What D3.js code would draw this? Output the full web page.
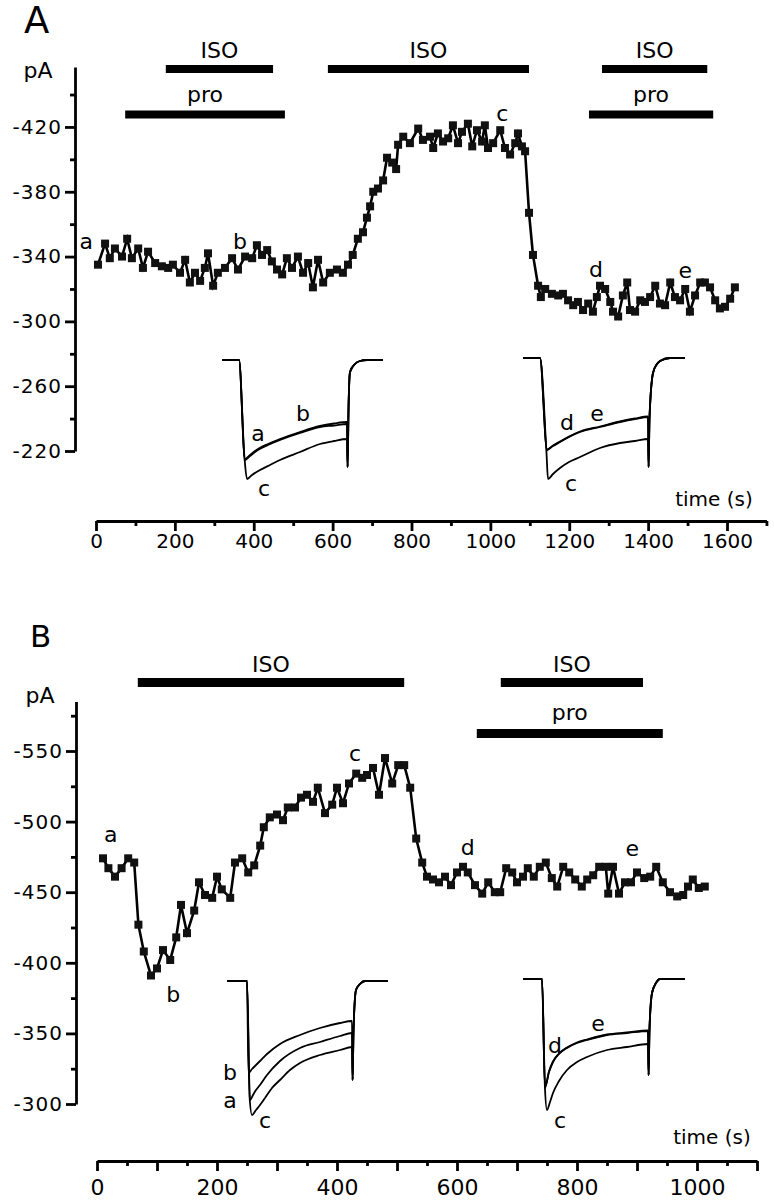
<!DOCTYPE html>
<html><head><meta charset="utf-8">
<script src="https://cdn.jsdelivr.net/npm/d3@7"></script>
<style>body{margin:0;background:#fff} svg{display:block}</style>
</head><body>
<svg id="chart" width="774" height="1200"></svg>
<script>
// ---------------- DATA ----------------
// Panel A: peak Ca current vs time
const panelA_time = [5,23,35,48,66,79,91,107,119,132,150,167,183,195,213,226,238,251,264,276,284,297,309,327,345,360,378,396,408,421,434,446,459,472,484,497,512,525,538,550,563,576,593,611,626,639,651,664,677,687,695,703,715,728,738,751,761,766,779,796,817,829,847,855,867,880,893,905,918,928,943,954,966,979,986,994,1007,1025,1037,1050,1063,1070,1080,1088,1098,1108,1121,1128,1139,1156,1172,1184,1197,1210,1222,1235,1248,1260,1270,1278,1291,1304,1311,1324,1336,1347,1354,1367,1380,1392,1405,1418,1430,1443,1456,1468,1481,1494,1506,1519,1532,1544,1557,1570,1582,1595,1608,1620];
const panelA_current = [-335,-348,-339,-345,-340,-351,-339,-345,-333,-343,-336,-334,-333,-335,-330,-338,-324,-330,-325,-333,-342,-322,-330,-333,-339,-332,-340,-339,-347,-341,-344,-337,-332,-329,-339,-333,-340,-330,-336,-321,-338,-324,-330,-332,-330,-335,-341,-351,-355,-364,-371,-380,-382,-387,-401,-398,-394,-409,-414,-410,-419,-412,-414,-407,-416,-411,-413,-421,-410,-417,-422,-408,-418,-411,-421,-407,-410,-418,-407,-403,-410,-416,-408,-405,-367,-341,-322,-315,-320,-317,-316,-317,-313,-310,-312,-307,-311,-306,-315,-322,-320,-312,-306,-303,-316,-324,-307,-306,-313,-312,-315,-322,-311,-310,-324,-315,-313,-320,-306,-316,-324,-324,-321,-313,-308,-309,-314,-321];

// Panel B
const panelB_time = [10,19,30,41,52,62,69,78,90,100,110,122,132,140,150,162,170,180,192,200,208,222,230,242,252,262,272,278,288,300,310,318,330,340,350,360,368,380,392,400,410,420,432,442,450,460,470,480,492,502,512,522,532,542,550,560,570,580,590,600,610,618,630,642,652,663,672,682,692,700,710,718,728,738,748,758,767,777,787,797,808,817,827,837,848,852,860,870,880,890,900,912,922,932,943,955,967,977,985,993,1003,1013];
const panelB_current = [-474,-467,-461,-467,-474,-471,-427,-408,-391,-396,-409,-402,-418,-441,-421,-437,-457,-448,-446,-461,-452,-446,-471,-474,-464,-469,-483,-496,-503,-505,-501,-510,-510,-517,-519,-514,-524,-506,-512,-524,-513,-527,-534,-531,-533,-538,-519,-545,-527,-540,-540,-524,-488,-471,-461,-459,-457,-461,-455,-464,-468,-464,-455,-449,-457,-450,-450,-467,-464,-457,-461,-467,-461,-468,-471,-460,-454,-468,-464,-459,-454,-459,-462,-468,-468,-449,-468,-449,-457,-457,-464,-460,-461,-468,-457,-450,-447,-448,-454,-459,-453,-454];

// Drug application bars (s)
const drugA_label = ["ISO","pro","ISO","ISO","pro"];
const drugA_start = [177, 74, 588, 1283, 1250];
const drugA_end   = [449, 479, 1098, 1550, 1565];
const drugA_row   = [0, 1, 0, 0, 1];
const drugB_label = ["ISO","ISO","pro"];
const drugB_start = [68, 673, 633];
const drugB_end   = [512, 910, 943];
const drugB_row   = [0, 0, 1];

// Point annotations [t, pA]
const annA_text = ["a","b","c","d","e"];
const annA_t = [-25, 365, 1030, 1268, 1494];
const annA_v = [-349.6, -349.6, -428.6, -332.3, -331.7];
const annB_text = ["a","b","c","d","e"];
const annB_t = [23, 127, 430, 618, 892];
const annB_v = [-491, -378, -548.6, -482, -481];

// Axis ticks
const tickA_y = [-420,-380,-340,-300,-260,-220];
const tickA_yMinor = [-440,-400,-360,-320,-280,-240];
const tickA_x = [0,200,400,600,800,1000,1200,1400,1600];
const tickA_xMinor = [100,300,500,700,900,1100,1300,1500,1700];
const tickB_y = [-550,-500,-450,-400,-350,-300];
const tickB_yMinor = [-575,-525,-475,-425,-375,-325];
const tickB_x = [0,200,400,600,800,1000];
const tickB_xMid = [100,300,500,700,900,1100];
const tickB_xMinor = [50,150,250,350,450,550,650,750,850,950,1050];

// Inset current traces: [ms, nA]
const tailA = [[125.6,-1.07],[126.5,-0.5],[128,-0.12],[133,-0.04],[138,-0.01],[145,0],[161,0]];
const insetA1_a = [[0,0],[17,0],[23,-1.00],[28,-0.96],[36,-0.90],[46,-0.85],[58,-0.80],[78,-0.73],[98,-0.67],[112,-0.655],[125,-0.64]];
const insetA1_b = [[0,0],[17,0],[23,-0.99],[28,-0.95],[36,-0.89],[46,-0.84],[58,-0.79],[78,-0.72],[98,-0.66],[112,-0.635],[125,-0.62]];
const insetA1_c = [[0,0],[17,0],[22.5,-0.98],[25,-1.19],[30,-1.15],[38,-1.10],[48,-1.05],[58,-1.00],[78,-0.92],[98,-0.84],[112,-0.81],[125,-0.79]];
const tailA2 = [[125.6,-1.09],[126.5,-0.6],[130,-0.15],[134,-0.06],[137,-0.03],[147,0],[162,0]];
const insetA2_d = [[0,0],[17,0],[24,-0.92],[30,-0.88],[37,-0.84],[46,-0.79],[57,-0.74],[77,-0.69],[97,-0.64],[112,-0.61],[125,-0.59]];
const insetA2_e = [[0,0],[17,0],[24,-0.915],[30,-0.875],[37,-0.835],[46,-0.785],[57,-0.735],[77,-0.685],[97,-0.635],[112,-0.605],[125,-0.585]];
const insetA2_c = [[0,0],[17,0],[23.5,-0.95],[25,-1.21],[30,-1.16],[37,-1.10],[46,-1.04],[57,-0.99],[77,-0.90],[97,-0.85],[112,-0.83],[125,-0.81]];
const tailB1 = [[125.6,-0.99],[126.5,-0.5],[129,-0.09],[133,-0.03],[138,0],[161,0]];
const insetB1_b = [[0,0],[20,0],[21.5,-0.92],[25,-0.88],[28,-0.85],[33,-0.80],[40,-0.73],[53,-0.63],[73,-0.54],[93,-0.47],[113,-0.42],[125,-0.40]];
const insetB1_a = [[0,0],[20,0],[23,-1.19],[26,-1.14],[29,-1.09],[33,-1.04],[40,-0.94],[53,-0.80],[73,-0.67],[93,-0.61],[113,-0.55],[125,-0.52]];
const insetB1_c = [[0,0],[20,0],[22.5,-1.15],[25,-1.34],[29,-1.29],[33,-1.24],[38,-1.17],[45,-1.07],[53,-0.99],[63,-0.89],[73,-0.82],[93,-0.74],[113,-0.69],[125,-0.66]];
const tailB2 = [[125.6,-0.96],[126.5,-0.5],[129,-0.14],[133,-0.04],[137,0],[162,0]];
const insetB2_d = [[0,0],[19,0],[22,-1.09],[26,-0.93],[30,-0.83],[36,-0.75],[44,-0.69],[54,-0.64],[64,-0.61],[84,-0.56],[104,-0.54],[125,-0.52]];
const insetB2_e = [[0,0],[19,0],[22,-1.08],[26,-0.925],[30,-0.825],[36,-0.745],[44,-0.685],[54,-0.635],[64,-0.605],[84,-0.555],[104,-0.535],[125,-0.515]];
const insetB2_c = [[0,0],[19,0],[22,-1.1],[24,-1.31],[27,-1.23],[30,-1.14],[36,-1.02],[44,-0.91],[54,-0.83],[64,-0.78],[84,-0.71],[104,-0.68],[125,-0.65]];

// ---------------- DRAW ----------------
const FONT = "'DejaVu Sans', Verdana, sans-serif";
const svg = d3.select("#chart");

const xA = d3.scaleLinear().domain([0, 1700]).range([96, 96 + 1700 * 631 / 1600]);
const yA = d3.scaleLinear().domain([-220, -457]).range([451, 67]);
const xB = d3.scaleLinear().domain([0, 1100]).range([97, 757]);
const yB = d3.scaleLinear().domain([-300, -585]).range([1104, 1104 - 285 * 1.412]);

function styleAxis(g, fs) {
  g.selectAll(".domain, .tick line").attr("stroke", "#000").attr("stroke-width", 2.8);
  g.selectAll("text").attr("font-family", FONT).attr("font-size", fs).attr("fill", "#000");
}

function drawYAxis(xpos, scale, majors, minors, fs) {
  const g = svg.append("g").attr("transform", `translate(${xpos},0)`);
  g.call(d3.axisLeft(scale).tickValues(majors).tickSize(10).tickSizeOuter(0).tickPadding(3).tickFormat(d => String(d)));
  const m = svg.append("g").attr("transform", `translate(${xpos},0)`);
  m.call(d3.axisLeft(scale).tickValues(minors).tickSize(5).tickFormat(""));
  m.select(".domain").remove();
  styleAxis(g, fs); styleAxis(m, fs);
  g.selectAll("text").attr("letter-spacing", 1);
}

function drawXAxis(ypos, scale, majors, mids, minors, fs, pad) {
  const g = svg.append("g").attr("transform", `translate(0,${ypos})`);
  g.call(d3.axisBottom(scale).tickValues(majors).tickSize(10).tickSizeOuter(0).tickPadding(pad).tickFormat(d => String(d)));
  styleAxis(g, fs);
  if (mids.length) {
    const m2 = svg.append("g").attr("transform", `translate(0,${ypos})`);
    m2.call(d3.axisBottom(scale).tickValues(mids).tickSize(10).tickFormat(""));
    m2.select(".domain").remove(); styleAxis(m2, fs);
  }
  const m = svg.append("g").attr("transform", `translate(0,${ypos})`);
  m.call(d3.axisBottom(scale).tickValues(minors).tickSize(5).tickFormat(""));
  m.select(".domain").remove(); styleAxis(m, fs);
}

function drawSeries(times, vals, xs, ys) {
  const pts = times.map((t, i) => [t, vals[i]]);
  svg.append("path").datum(pts)
    .attr("d", d3.line().x(d => xs(d[0])).y(d => ys(d[1])))
    .attr("fill", "none").attr("stroke", "#000").attr("stroke-width", 2.6);
  svg.append("g").selectAll("rect").data(pts).join("rect")
    .attr("x", d => xs(d[0]) - 4).attr("y", d => ys(d[1]) - 4)
    .attr("width", 8).attr("height", 8).attr("fill", "#111");
}

function drawDrugs(labels, starts, ends, rows, xs, rowY, rowH, labelBase) {
  labels.forEach((lab, i) => {
    const r = rows[i];
    svg.append("rect").attr("x", xs(starts[i])).attr("width", xs(ends[i]) - xs(starts[i]))
      .attr("y", rowY[r] - rowH / 2).attr("height", rowH).attr("fill", "#000");
    svg.append("text").attr("x", (xs(starts[i]) + xs(ends[i])) / 2).attr("y", labelBase[r])
      .attr("text-anchor", "middle").attr("font-family", FONT).attr("font-size", 22).text(lab);
  });
}

function drawAnn(texts, ts, vs, xs, ys, fs) {
  texts.forEach((s, i) => {
    svg.append("text").attr("x", xs(ts[i])).attr("y", ys(vs[i])).attr("dy", "0.35em")
      .attr("text-anchor", "middle").attr("font-family", FONT).attr("font-size", fs).text(s);
  });
}

function drawInset(left, base, traces, tail, labels) {
  const ix = d3.scaleLinear().domain([0, 160]).range([left, left + 160]);
  const iy = d3.scaleLinear().domain([0, -1]).range([base, base + 100]);
  const line = d3.line().x(d => ix(d[0])).y(d => iy(d[1])).curve(d3.curveMonotoneX);
  traces.forEach(tr => {
    svg.append("path").datum(tr.concat(tail)).attr("d", line)
      .attr("fill", "none").attr("stroke", "#000").attr("stroke-width", 1.8);
  });
  labels.forEach(l => {
    svg.append("text").attr("x", ix(l[1])).attr("y", iy(l[2])).attr("dy", "0.35em")
      .attr("text-anchor", "middle").attr("font-family", FONT).attr("font-size", 22).text(l[0]);
  });
}

// Panel A
svg.append("text").attr("x", 24).attr("y", 33).attr("font-family", FONT).attr("font-size", 37).text("A");
svg.append("text").attr("x", 38).attr("y", 78).attr("text-anchor", "middle").attr("font-family", FONT).attr("font-size", 22).text("pA");
drawYAxis(75, yA, tickA_y, tickA_yMinor, 20);
drawXAxis(521, xA, tickA_x, [], tickA_xMinor, 20, 3);
svg.append("text").attr("x", 714).attr("y", 506).attr("text-anchor", "middle").attr("font-family", FONT).attr("font-size", 20).text("time (s)");
drawDrugs(drugA_label, drugA_start, drugA_end, drugA_row, xA, [69, 114.5], 8, [58, 102]);
drawSeries(panelA_time, panelA_current, xA, yA);
drawAnn(annA_text, annA_t, annA_v, xA, yA, 22);
drawInset(222, 360, [insetA1_a, insetA1_b, insetA1_c], tailA, [["a", 36, -0.73], ["b", 81, -0.53], ["c", 42, -1.28]]);
drawInset(523, 358, [insetA2_d, insetA2_e, insetA2_c], tailA2, [["d", 44, -0.64], ["e", 74, -0.55], ["c", 48, -1.25]]);

// Panel B
svg.append("text").attr("x", 30).attr("y", 647).attr("font-family", FONT).attr("font-size", 31).text("B");
svg.append("text").attr("x", 40).attr("y", 703).attr("text-anchor", "middle").attr("font-family", FONT).attr("font-size", 22).text("pA");
drawYAxis(76, yB, tickB_y, tickB_yMinor, 20);
drawXAxis(1161, xB, tickB_x, tickB_xMid, tickB_xMinor, 22, 8);
svg.append("text").attr("x", 712).attr("y", 1144).attr("text-anchor", "middle").attr("font-family", FONT).attr("font-size", 20).text("time (s)");
drawDrugs(drugB_label, drugB_start, drugB_end, drugB_row, xB, [682.5, 733.5], 9, [672, 720]);
drawSeries(panelB_time, panelB_current, xB, yB);
drawAnn(annB_text, annB_t, annB_v, xB, yB, 22);
drawInset(227, 981, [insetB1_a, insetB1_b, insetB1_c], tailB1, [["b", 3, -0.91], ["a", 3, -1.19], ["c", 38, -1.39]]);
drawInset(523, 979, [insetB2_d, insetB2_e, insetB2_c], tailB2, [["d", 32, -0.66], ["e", 75, -0.44], ["c", 37, -1.41]]);
</script>
</body></html>
